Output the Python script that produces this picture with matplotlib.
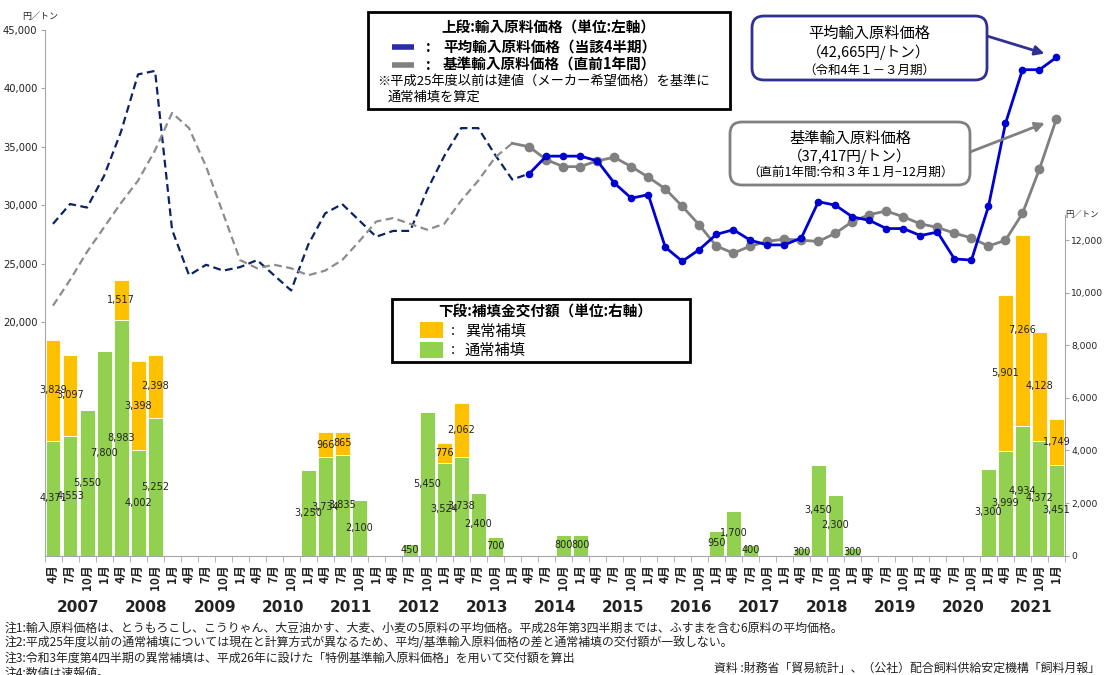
import matplotlib
matplotlib.use("Agg")
import matplotlib.pyplot as plt
import matplotlib.transforms as mtransforms
from matplotlib.patches import FancyBboxPatch, Rectangle
import numpy as np

plt.rcParams["font.family"] = ["Noto Sans CJK JP", "DejaVu Sans"]

# ===== Data =====
# Quarters from 2007 Apr to 2022 Jan (fiscal years 2007-2021)
months = [4, 7, 10, 1] * 15
fiscal_years = list(range(2007, 2022))

# 平均輸入原料価格 (yen/t, left axis)
avg_price = [
    28400, 30100, 29800, 32500, 36300, 41200, 41500, 27900, 24000, 24900,
    24400, 24700, 25300, 24000, 22700, 26600, 29300, 30100, 28700, 27300,
    27800, 27800, 31300, 34200, 36600, 36600, 34300, 32200, 32700, 34200,
    34200, 34200, 33800, 31900, 30600, 30900, 26400, 25200, 26200, 27500,
    27900, 27000, 26600, 26600, 27200, 30300, 30000, 29000, 28700, 28000,
    28000, 27400, 27700, 25400, 25300, 29900, 37000, 41600, 41600, 42665,
]
# 基準輸入原料価格 (yen/t, left axis)
base_price = [
    21400, 23600, 26000, 28100, 30200, 32100, 34700, 37900, 36600, 33300,
    29300, 25300, 24600, 24900, 24600, 24000, 24400, 25300, 26900, 28600,
    28900, 28400, 27900, 28400, 30400, 32100, 34100, 35300, 35000, 33900,
    33300, 33300, 33800, 34100, 33300, 32400, 31400, 29900, 28300, 26500,
    25900, 26500, 26900, 27100, 27000, 26900, 27600, 28600, 29200, 29500,
    29000, 28400, 28100, 27600, 27200, 26500, 27000, 29300, 33100, 37417,
]
# 通常補填 (yen/t, right axis)
normal_comp = [
    4371, 4553, 5550, 7800, 8983, 4002, 5252, 0, 0, 0,
    0, 0, 0, 0, 0, 3250, 3734, 3835, 2100, 0,
    0, 450, 5450, 3524, 3738, 2400, 700, 0, 0, 0,
    800, 800, 0, 0, 0, 0, 0, 0, 0, 950,
    1700, 400, 0, 0, 300, 3450, 2300, 300, 0, 0,
    0, 0, 0, 0, 0, 3300, 3999, 4934, 4372, 3451,
]
# 異常補填 (yen/t, right axis)
abnormal_comp = [
    3829, 3097, 0, 0, 1517, 3398, 2398, 0, 0, 0,
    0, 0, 0, 0, 0, 0, 966, 865, 0, 0,
    0, 0, 0, 776, 2062, 0, 0, 0, 0, 0,
    0, 0, 0, 0, 0, 0, 0, 0, 0, 0,
    0, 0, 0, 0, 0, 0, 0, 0, 0, 0,
    0, 0, 0, 0, 0, 0, 5901, 7266, 4128, 1749,
]

# index where the old (dashed) series hands over to the new one
AVG_SPLIT = 28
BASE_SPLIT = 27

# ===== Style =====
GREEN = "#92D050"
ORANGE = "#FFC000"
NAVY = "#0B2366"
BLUE = "#0000D0"
GRAY = "#808080"
AXIS_GRAY = "#A6A6A6"
TEXT = "#222222"

W, H = 1105, 675
fig = plt.figure(figsize=(W / 100, H / 100), dpi=100)
ax_bar = fig.add_axes([44.5 / W, 1 - 555.6 / H, (1065 - 44.5) / W, 525.6 / H])
ax = ax_bar.twinx()

x = np.arange(len(months))

# ----- bars (right axis) -----
ax_bar.bar(x, normal_comp, width=0.88, color=GREEN, edgecolor="white", linewidth=0.6)
ax_bar.bar(x, abnormal_comp, width=0.88, bottom=normal_comp, color=ORANGE,
           edgecolor="white", linewidth=0.6)
for i in x:
    n, a = normal_comp[i], abnormal_comp[i]
    if n:
        ax_bar.text(i, n / 2, f"{n:,}", ha="center", va="center", fontsize=7,
                    color=TEXT, family="DejaVu Sans")
    if a:
        ax_bar.text(i, n + a / 2, f"{a:,}", ha="center", va="center", fontsize=7,
                    color=TEXT, family="DejaVu Sans")

ax_bar.set_xlim(-0.5, len(months) - 0.5)
ax_bar.set_ylim(0, 20000)
ax_bar.yaxis.tick_right()
ax_bar.set_yticks(range(0, 12001, 2000))
ax_bar.set_yticklabels([f"{v:,}" for v in range(0, 12001, 2000)], fontsize=6.6,
                       color=TEXT, family="DejaVu Sans")
ax_bar.tick_params(axis="y", length=3, color=AXIS_GRAY, pad=1.5)
for s in ["top", "left"]:
    ax_bar.spines[s].set_visible(False)
ax_bar.spines["right"].set_color(AXIS_GRAY)
ax_bar.spines["right"].set_bounds(0, 12950)
ax_bar.spines["bottom"].set_color(AXIS_GRAY)

ax_bar.set_xticks(x)
ax_bar.set_xticklabels([f"{m}月" for m in months], rotation=90, fontsize=8.5,
                       fontweight="bold", color=TEXT)
ax_bar.tick_params(axis="x", which="major", length=0, pad=6)
ax_bar.set_xticks(np.arange(-0.5, len(months)), minor=True)
ax_bar.tick_params(axis="x", which="minor", length=4, color=AXIS_GRAY)

# fiscal year labels under the month ticks
blend = mtransforms.blended_transform_factory(ax_bar.transData, ax_bar.transAxes)
for k, fy in enumerate(fiscal_years):
    ax_bar.text(4 * k + 1.5, -0.098, str(fy), transform=blend, ha="center",
                va="center", fontsize=11, fontweight="bold", color=TEXT,
                family="DejaVu Sans")

# ----- lines (left axis) -----
ax.plot(x[:AVG_SPLIT + 1], avg_price[:AVG_SPLIT + 1], color=NAVY, lw=1.6,
        ls=(0, (3.5, 2)))
ax.plot(x[:BASE_SPLIT + 1], base_price[:BASE_SPLIT + 1], color="#8C8C8C", lw=1.6,
        ls=(0, (3.5, 2)))
ax.plot(x[BASE_SPLIT:], base_price[BASE_SPLIT:], color=GRAY, lw=2, marker="o",
        markersize=6, markevery=list(range(1, len(x) - BASE_SPLIT)))
ax.plot(x[AVG_SPLIT:], avg_price[AVG_SPLIT:], color=BLUE, lw=2, marker="o",
        markersize=4.5)

ax.set_ylim(0, 45000)
ax.yaxis.tick_left()
ax.set_yticks(range(20000, 45001, 5000))
ax.set_yticklabels([f"{v:,}" for v in range(20000, 45001, 5000)], fontsize=7.2,
                   color=TEXT, family="DejaVu Sans")
ax.tick_params(axis="y", length=3, color=AXIS_GRAY, pad=2)
for s in ["top", "right", "bottom"]:
    ax.spines[s].set_visible(False)
ax.spines["left"].set_color(AXIS_GRAY)

# ----- overlay in pixel units for boxes and notes -----
ov = fig.add_axes([0, 0, 1, 1])
ov.set_xlim(0, W)
ov.set_ylim(H, 0)
ov.axis("off")
ov.patch.set_visible(False)

ov.text(40, 16, "円／トン", fontsize=6.5, ha="center", va="center", color=TEXT)
ov.text(1082, 215, "円／トン", fontsize=6, ha="center", va="center", color=TEXT)

# upper legend
ov.add_patch(Rectangle((368, 12), 362, 97, facecolor="white", edgecolor="black", lw=2))
ov.text(548, 28, "上段:輸入原料価格（単位:左軸）", fontsize=10.5, fontweight="bold",
        ha="center", va="center")
ov.plot([392, 414], [47, 47], color="#2B2BB0", lw=4, solid_capstyle="butt")
ov.plot([392, 414], [65, 65], color=GRAY, lw=4, solid_capstyle="butt")
ov.text(426, 47, ":", fontsize=10.5, fontweight="bold", ha="left", va="center")
ov.text(443, 47, "平均輸入原料価格（当該4半期）", fontsize=10.5, fontweight="bold",
        ha="left", va="center")
ov.text(426, 65, ":", fontsize=10.5, fontweight="bold", ha="left", va="center")
ov.text(443, 65, "基準輸入原料価格（直前1年間）", fontsize=10.5, fontweight="bold",
        ha="left", va="center")
ov.text(377, 81, "※平成25年度以前は建値（メーカー希望価格）を基準に", fontsize=9.5,
        ha="left", va="center")
ov.text(388, 97, "通常補填を算定", fontsize=9.5, ha="left", va="center")

# lower legend
ov.add_patch(Rectangle((392, 299), 298, 63, facecolor="white", edgecolor="black", lw=2))
ov.text(545, 312, "下段:補填金交付額（単位:右軸）", fontsize=10.5, fontweight="bold",
        ha="center", va="center")
ov.add_patch(Rectangle((420, 322), 23, 16, facecolor=ORANGE, edgecolor="none"))
ov.add_patch(Rectangle((420, 342), 23, 16, facecolor=GREEN, edgecolor="none"))
ov.text(451, 331, ":", fontsize=10.5, ha="left", va="center")
ov.text(465, 331, "異常補填", fontsize=11, ha="left", va="center")
ov.text(451, 350, ":", fontsize=10.5, ha="left", va="center")
ov.text(465, 350, "通常補填", fontsize=11, ha="left", va="center")

# callout boxes
ov.add_patch(FancyBboxPatch((752, 16), 235, 64, boxstyle="round,pad=0,rounding_size=12",
                            facecolor="white", edgecolor="#2E3192", lw=2))
ov.text(869, 33, "平均輸入原料価格", fontsize=11, ha="center", va="center")
ov.text(869, 52, f"（{avg_price[-1]:,}円/トン）", fontsize=10.5, ha="center", va="center")
ov.text(869, 70, "（令和4年１－３月期）", fontsize=9, ha="center", va="center")

ov.add_patch(FancyBboxPatch((730, 122), 240, 63, boxstyle="round,pad=0,rounding_size=12",
                            facecolor="white", edgecolor=GRAY, lw=2))
ov.text(850, 138, "基準輸入原料価格", fontsize=11, ha="center", va="center")
ov.text(850, 156, f"（{base_price[-1]:,}円/トン）", fontsize=10.5, ha="center", va="center")
ov.text(850, 173, "（直前1年間:令和３年１月−12月期）", fontsize=9, ha="center", va="center")

ax.annotate("", xy=(x[-1], avg_price[-1]), xytext=(987, 36), textcoords=ov.transData,
            arrowprops=dict(arrowstyle="-|>", color="#2E3192", lw=2, shrinkA=0,
                            shrinkB=9, mutation_scale=14))
ax.annotate("", xy=(x[-1], base_price[-1]), xytext=(970, 152), textcoords=ov.transData,
            arrowprops=dict(arrowstyle="-|>", color=GRAY, lw=2, shrinkA=0,
                            shrinkB=9, mutation_scale=14))

# notes
notes = [
    "注1:輸入原料価格は、とうもろこし、こうりゃん、大豆油かす、大麦、小麦の5原料の平均価格。平成28年第3四半期までは、ふすまを含む6原料の平均価格。",
    "注2:平成25年度以前の通常補填については現在と計算方式が異なるため、平均/基準輸入原料価格の差と通常補填の交付額が一致しない。",
    "注3:令和3年度第4四半期の異常補填は、平成26年に設けた「特例基準輸入原料価格」を用いて交付額を算出",
    "注4:数値は速報値。",
]
for k, note in enumerate(notes):
    ov.text(5, 628 + 15 * k, note, fontsize=8.6, ha="left", va="center", color=TEXT)
ov.text(1100, 668, "資料 :財務省「貿易統計」、（公社）配合飼料供給安定機構「飼料月報」",
        fontsize=8.6, ha="right", va="center", color=TEXT)

fig.savefig("out.png", dpi=100)
